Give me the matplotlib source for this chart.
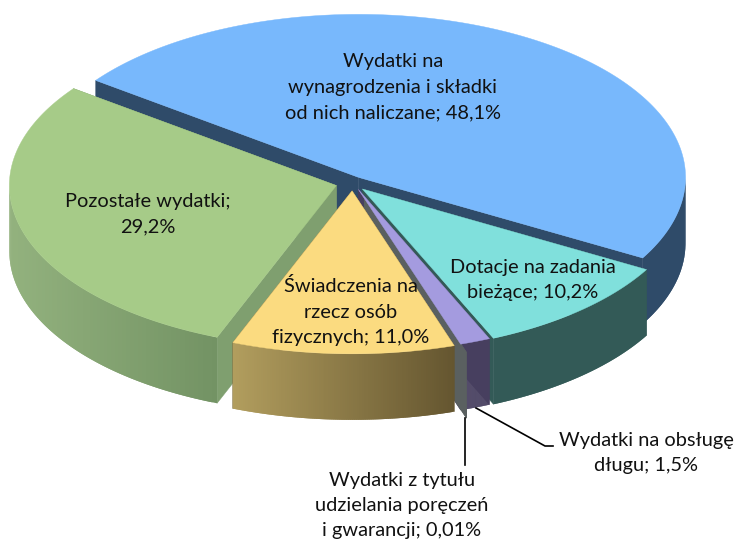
import numpy as np
import matplotlib
matplotlib.use("Agg")
import matplotlib.pyplot as plt
from matplotlib.colors import to_rgb
from matplotlib.patches import Polygon

# --- data ---
names = ["Wydatki na\nwynagrodzenia i składki\nod nich naliczane",
         "Dotacje na zadania\nbieżące",
         "Wydatki na obsługę\ndługu",
         "Wydatki z tytułu\nudzielania poręczeń\ni gwarancji",
         "Świadczenia na\nrzecz osób\nfizycznych",
         "Pozostałe wydatki"]
values = [48.1, 10.2, 1.5, 0.01, 11.0, 29.2]
value_labels = ["48,1%", "10,2%", "1,5%", "0,01%", "11,0%", "29,2%"]
label_seps = ["; ", "; ", "; ", "; ", "; ", ";\n"]

# --- style ---
top_colors = ["#78b8fc", "#80e0dc", "#a49bdf", "#5a6060", "#fbdb80", "#a6cb88"]
wall_left = ["#2f4b69", "#335a57", "#473f5f", "#5a6060", "#b29e5e", "#93b27e"]
wall_right = ["#2f4b69", "#335a57", "#473f5f", "#5a6060", "#655630", "#739364"]
face_colors = ["#2f4b69", "#335a57", "#473f5f", "#5a6060", "#655630", "#7f9f6f"]
explode = [0.045, 0.045, 0.045, 0.07, 0.045, 0.045]
shift = [(0, 0), (2, 0), (2.5, -1), (6.5, 3), (2, 0), (0, 0)]
CX, CY, RX, RY, DEPTH = 350.5, 183.5, 327, 163, 66
START = 143.5
label_xy = [(393, 87), (533, 280), (646, 453), (402, 505.5), (351, 311.5), (148, 214.5)]
FONT = "Lato"
FS = 14.4

fig = plt.figure(figsize=(7.36, 5.42), dpi=100)
ax = fig.add_axes([0, 0, 1, 1])
ax.set_xlim(0, 736)
ax.set_ylim(542, 0)
ax.axis("off")

spans = np.array(values) / sum(values) * 360
ends = START - np.cumsum(spans)
starts = ends + spans


def pt(cx, cy, deg):
    t = np.radians(deg)
    return cx + RX * np.cos(t), cy - RY * np.sin(t)


def mix(a, b, f):
    a, b = np.array(to_rgb(a)), np.array(to_rgb(b))
    return tuple(a + (b - a) * f)


def center(i):
    t = np.radians((starts[i] + ends[i]) / 2)
    return (CX + explode[i] * RX * np.cos(t) + shift[i][0],
            CY - explode[i] * RY * np.sin(t) + shift[i][1])


def face(i, deg):
    cx, cy = center(i)
    x, y = pt(cx, cy, deg)
    ax.add_patch(Polygon([(cx, cy), (x, y), (x, y + DEPTH), (cx, cy + DEPTH)],
                         fc=face_colors[i], ec=face_colors[i], lw=0.3))


def walls(i):
    cx, cy = center(i)
    face(i, starts[i])
    face(i, ends[i])
    th = np.linspace(starts[i], ends[i], 120)
    th = th[np.sin(np.radians(th)) <= 0.02]
    if len(th) > 1:
        xs, ys = pt(cx, cy, th)
        x0, x1 = xs.min(), xs.max()
        for k in range(len(th) - 1):
            m = min(k + 2, len(th) - 1)
            c = mix(wall_left[i], wall_right[i], (xs[k] - x0) / max(x1 - x0, 1))
            ax.add_patch(Polygon([(xs[k], ys[k]), (xs[m], ys[m]),
                                  (xs[m], ys[m] + DEPTH), (xs[k], ys[k] + DEPTH)],
                                 fc=c, ec="none", lw=0))


def top(i):
    cx, cy = center(i)
    th = np.linspace(starts[i], ends[i], 200)
    xs, ys = pt(cx, cy, th)
    ax.add_patch(Polygon(np.r_[[[cx, cy]], np.c_[xs, ys]], fc=top_colors[i],
                         ec=top_colors[i], lw=0.3))


# far slices first, near slices last
for i in (0, 5, 1):
    walls(i)
    top(i)
walls(2)
walls(3)
top(2)
walls(4)
top(4)

# leader lines
ax.plot([465, 465], [418, 465], color="black", lw=1.2)
ax.plot([476, 545, 553], [408, 446, 446], color="black", lw=1.2)

for n, s, v, (x, y) in zip(names, label_seps, value_labels, label_xy):
    ax.text(x, y, f"{n}{s}{v}", ha="center", va="center", family=FONT, fontsize=FS,
            color="#111111", linespacing=1.6)

fig.savefig("out.png", dpi=100)
